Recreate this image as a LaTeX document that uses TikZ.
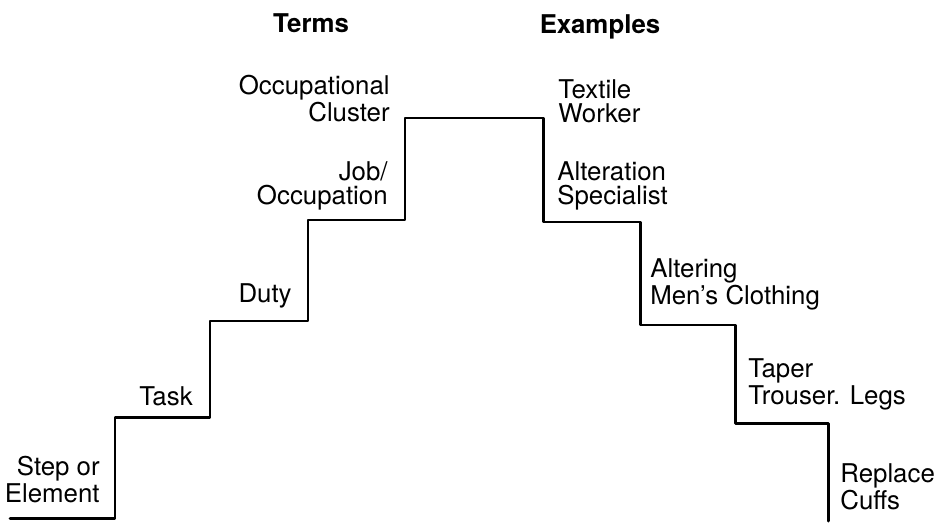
\documentclass[tikz,border=0pt]{standalone}
\usepackage{fontspec}
\setmainfont{TeX Gyre Heros}
\tikzset{
	stair/.style={line width=1.7pt, line join=round, line cap=round},
	term/.style={anchor=base east, align=right, inner sep=0pt, font=\fontsize{14.7}{13.6}\selectfont},
	example/.style={anchor=base west, align=left, inner sep=0pt, font=\fontsize{14.7}{13.6}\selectfont},
	heading/.style={anchor=base, inner sep=0pt, font=\fontsize{14.7}{13.6}\selectfont\bfseries}
}
\begin{document}
\begin{tikzpicture}[x=0.2mm, y=-0.2mm]
	\useasboundingbox (0,0) rectangle (935,523);

	% headings
	\node[heading] (terms) at (311,32) {Terms};
	\node[heading] (examples) at (600,33) {Examples};

	% the stairs
	\draw[stair] (10,518) -- (115,518) -- (115,417) -- (210,417) -- (210,321)
		-- (308,321) -- (308,220) -- (405,220) -- (405,118) -- (543,118)
		-- (543,222) -- (640,222) -- (640,325) -- (735,325) -- (735,423)
		-- (828,423) -- (828,521);

	% terms, going up (base = last line)
	\node[term] (step) at (100,502) {Step or\\Element};
	\node[term] (task) at (193,405) {Task};
	\node[term] (duty) at (292,302) {Duty};
	\node[term] (job) at (388,204) {Job/\\Occupation};
	\node[term] (cluster) at (390,121) {Occupational\\Cluster};

	% examples, going down
	\node[example] (textile) at (558,122) {Textile\\Worker};
	\node[example] (alteration) at (557,204) {Alteration\\Specialist};
	\node[example] (altering) at (650,304) {Altering\\Men's Clothing};
	\node[example] (taper) at (748,404) {Taper\\Trouser. Legs};
	\node[example] (replace) at (840,509) {Replace\\Cuffs};
\end{tikzpicture}
\end{document}
